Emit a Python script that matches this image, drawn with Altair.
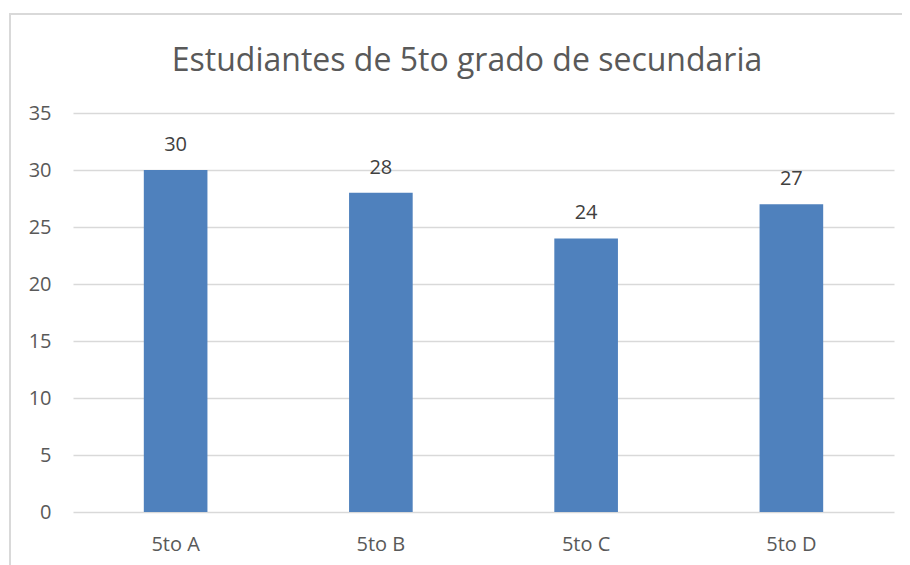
import altair as alt
import pandas as pd

categories = ["5to A", "5to B", "5to C", "5to D"]
values = [30, 28, 24, 27]
y_ticks = [0, 5, 10, 15, 20, 25, 30, 35]
title_text = "Estudiantes de 5to grado de secundaria"

df = pd.DataFrame({"grado": categories, "n": values})
tdf = pd.DataFrame({"t": [title_text]})

FONT = "Open Sans"
GREY = "#595959"

x_enc = alt.X("grado:N", sort=categories, title=None,
              scale=alt.Scale(paddingInner=0.69, paddingOuter=0.345),
              axis=alt.Axis(labelAngle=0, labelFontSize=20, labelColor=GREY, labelFont=FONT,
                            labelPadding=22, domain=False, ticks=False, grid=False))
y_enc = alt.Y("n:Q", title=None,
              scale=alt.Scale(domain=[0, 35], nice=False),
              axis=alt.Axis(values=y_ticks, labelFontSize=20, labelColor=GREY, labelFont=FONT,
                            labelPadding=22, domain=False, ticks=False, grid=True,
                            gridColor="#d9d9d9", gridWidth=1.3))

bars = alt.Chart(df).mark_bar(color="#4f81bd").encode(x=x_enc, y=y_enc)

labels = alt.Chart(df).mark_text(dy=-25, fontSize=20, color="#404040", font=FONT).encode(
    x=alt.X("grado:N", sort=categories), y="n:Q", text="n:Q")

frame = alt.Chart(df).mark_rect(fill=None, stroke="#d9d9d9", strokeWidth=1.5).encode(
    x=alt.value(-63), x2=alt.value(900), y=alt.value(-99), y2=alt.value(470))

title = alt.Chart(tdf).mark_text(fontSize=32, font=FONT, color=GREY, align="center",
                                 baseline="alphabetic").encode(
    x=alt.value(394), y=alt.value(-42), text="t:N")

chart = alt.layer(frame, bars, labels, title).properties(
    width=821, height=399,
    padding={"left": 65, "top": 105, "right": 8, "bottom": 60},
    autosize=alt.AutoSizeParams(type="none"),
).configure_view(stroke=None)

chart.save("out.html", embed_options={"renderer": "svg", "actions": False})
